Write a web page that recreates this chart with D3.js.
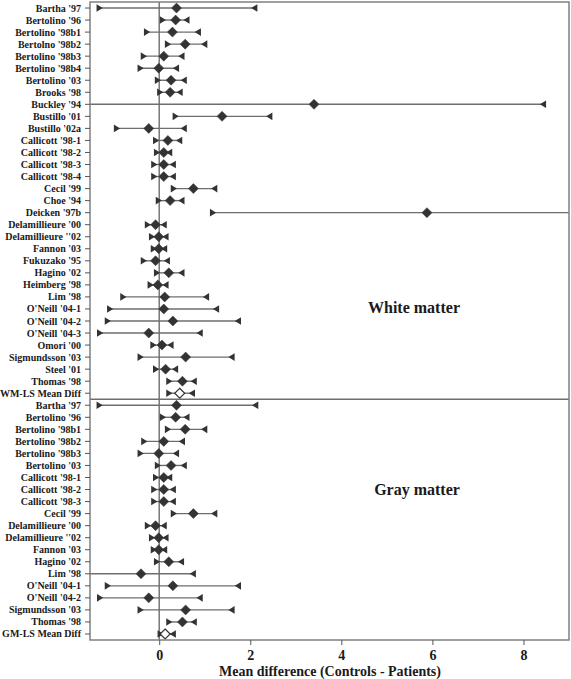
<!DOCTYPE html>
<html><head><meta charset="utf-8">
<script src="https://cdn.jsdelivr.net/npm/d3@7"></script>
<style>
html,body{margin:0;padding:0;background:#fff;}
svg{display:block;font-family:"Liberation Serif","Times New Roman",serif;font-weight:bold;}
</style></head>
<body>
<svg id="chart" width="571" height="679"></svg>
<script>
// ---- data ----
const wmStudies = ["Bartha '97","Bertolino '96","Bertolino '98b1","Bertolno '98b2","Bertolino '98b3","Bertolino '98b4","Bertolino '03","Brooks '98","Buckley '94","Bustillo '01","Bustillo '02a","Callicott '98-1","Callicott '98-2","Callicott '98-3","Callicott '98-4","Cecil '99","Choe '94","Deicken '97b","Delamillieure '00","Delamillieure ''02","Fannon '03","Fukuzako '95","Hagino '02","Heimberg '98","Lim '98","O'Neill '04-1","O'Neill '04-2","O'Neill '04-3","Omori '00","Sigmundsson '03","Steel '01","Thomas '98","WM-LS Mean Diff"];
const wmEst = [0.38,0.36,0.29,0.57,0.10,-0.01,0.26,0.24,3.40,1.38,-0.23,0.19,0.10,0.10,0.10,0.75,0.24,5.88,-0.08,-0.01,-0.01,-0.08,0.21,-0.03,0.12,0.10,0.30,-0.23,0.06,0.58,0.14,0.51,0.45];
const wmLo  = [-1.31,0.08,-0.27,0.19,-0.34,-0.41,-0.03,0.02,-1.80,0.36,-0.93,-0.07,-0.05,-0.11,-0.11,0.32,-0.01,1.18,-0.25,-0.16,-0.12,-0.34,-0.05,-0.19,-0.79,-1.08,-1.13,-1.30,-0.13,-0.41,-0.07,0.22,0.22];
const wmHi  = [2.09,0.60,0.85,0.99,0.49,0.37,0.54,0.45,8.43,2.42,0.54,0.44,0.22,0.30,0.30,1.21,0.49,10.50,0.10,0.14,0.11,0.17,0.49,0.14,1.03,1.25,1.73,0.89,0.25,1.59,0.35,0.76,0.72];

const gmStudies = ["Bartha '97","Bertolino '96","Bertolino '98b1","Bertolino '98b2","Bertolino '98b3","Bertolino '03","Callicott '98-1","Callicott '98-2","Callicott '98-3","Cecil '99","Delamillieure '00","Delamillieure ''02","Fannon '03","Hagino '02","Lim '98","O'Neill '04-1","O'Neill '04-2","Sigmundsson '03","Thomas '98","GM-LS Mean Diff"];
const gmEst = [0.38,0.36,0.57,0.10,-0.01,0.26,0.10,0.10,0.10,0.75,-0.08,-0.01,-0.01,0.21,-0.40,0.30,-0.23,0.58,0.51,0.13];
const gmLo  = [-1.31,0.08,0.19,-0.33,-0.41,-0.03,-0.07,-0.11,-0.11,0.32,-0.25,-0.16,-0.12,-0.05,-1.70,-1.13,-1.30,-0.41,0.22,0.03];
const gmHi  = [2.11,0.60,0.99,0.50,0.37,0.54,0.22,0.30,0.30,1.21,0.10,0.14,0.11,0.48,0.74,1.73,0.89,1.59,0.76,0.30];

const xTicks = [0,2,4,6,8];
const groupLabels = ["White matter","Gray matter"];
const xTitle = "Mean difference (Controls - Patients)";

// ---- build rows ----
const rows = [];
wmStudies.forEach((s,i)=>rows.push({key:"wm"+i,label:s,est:wmEst[i],lo:wmLo[i],hi:wmHi[i],pooled:i===wmStudies.length-1}));
gmStudies.forEach((s,i)=>rows.push({key:"gm"+i,label:s,est:gmEst[i],lo:gmLo[i],hi:gmHi[i],pooled:i===gmStudies.length-1}));

const L=90,R=569,T=2,B=640;
const svg=d3.select("#chart");
const x=d3.scaleLinear().domain([-1.52,9.0]).range([L,R]);
const y=d3.scalePoint().domain(rows.map(d=>d.key)).range([T,B]).padding(0.5);
const step=y.step();

svg.append("defs").append("clipPath").attr("id","clip")
  .append("rect").attr("x",L).attr("y",T).attr("width",R-L).attr("height",B-T);

const lineCol="#6e6e6e", markCol="#333";

// zero line
svg.append("line").attr("x1",x(0)).attr("x2",x(0)).attr("y1",T).attr("y2",B)
  .attr("stroke",lineCol).attr("stroke-width",1.4);

// separator
const sepY=T+wmStudies.length*step;
svg.append("line").attr("x1",L).attr("x2",R).attr("y1",sepY).attr("y2",sepY)
  .attr("stroke",lineCol).attr("stroke-width",1.4);

const g=svg.append("g").attr("clip-path","url(#clip)");
const rg=g.selectAll("g.row").data(rows).join("g").attr("class","row")
  .attr("transform",d=>`translate(0,${y(d.key)})`);
rg.append("line").attr("x1",d=>x(d.lo)).attr("x2",d=>x(d.hi)).attr("y1",0).attr("y2",0)
  .attr("stroke",lineCol).attr("stroke-width",1.4);
rg.append("path").attr("d","M-3,-3.8L3.2,0L-3,3.8Z").attr("fill",markCol)
  .attr("transform",d=>`translate(${x(d.lo)},0)`);
rg.append("path").attr("d","M3,-3.8L-3.2,0L3,3.8Z").attr("fill",markCol)
  .attr("transform",d=>`translate(${x(d.hi)},0)`);
rg.append("path").attr("d","M0,-5L5,0L0,5L-5,0Z")
  .attr("fill",d=>d.pooled?"#fff":markCol)
  .attr("stroke",markCol).attr("stroke-width",d=>d.pooled?1.2:0.5)
  .attr("transform",d=>`translate(${x(d.est)},0)`);

// frame
svg.append("rect").attr("x",L).attr("y",T).attr("width",R-L).attr("height",B-T)
  .attr("fill","none").attr("stroke","#808080").attr("stroke-width",1.5);

// y labels
const yl=svg.append("g");
yl.selectAll("line").data(rows).join("line")
  .attr("x1",L-5).attr("x2",L).attr("y1",d=>y(d.key)).attr("y2",d=>y(d.key))
  .attr("stroke","#555").attr("stroke-width",1);
yl.selectAll("text").data(rows).join("text")
  .attr("x",L-9).attr("y",d=>y(d.key)).attr("dy","0.35em")
  .attr("text-anchor","end").attr("font-size",10).attr("fill","#1a1a1a")
  .text(d=>d.label);

// x axis
const ax=svg.append("g").attr("transform",`translate(0,${B})`)
  .call(d3.axisBottom(x).tickValues(xTicks).tickSize(5).tickPadding(5).tickFormat(d3.format("d")));
ax.attr("font-family",null).attr("font-size",null);
ax.select(".domain").remove();
ax.selectAll("line").attr("stroke","#555");
ax.selectAll("text")
  .style("font-size","14px").style("font-family","'Liberation Serif', serif").style("font-weight","bold").attr("fill","#1a1a1a");

svg.append("text").attr("x",330).attr("y",676).attr("text-anchor","middle")
  .attr("font-size",14).attr("fill","#1a1a1a").text(xTitle);

// group labels
svg.append("text").attr("x",414).attr("y",313).attr("text-anchor","middle")
  .attr("font-size",16).attr("fill","#1a1a1a").text(groupLabels[0]);
svg.append("text").attr("x",417).attr("y",495).attr("text-anchor","middle")
  .attr("font-size",16).attr("fill","#1a1a1a").text(groupLabels[1]);
</script>
</body></html>
